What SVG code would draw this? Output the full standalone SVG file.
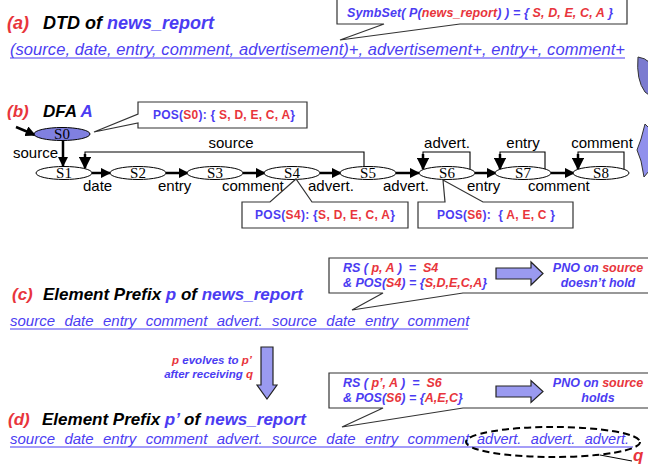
<svg xmlns="http://www.w3.org/2000/svg" width="648" height="469" viewBox="0 0 648 469">
  <style>
    text { font-family: "Liberation Sans", Arial, sans-serif; }
    .bi { font-weight: bold; font-style: italic; }
    .b { font-weight: bold; }
    .blue { fill: #4b3cf2; }
    .red { fill: #e8353c; }
    .blk { fill: #000; }
    .state { fill: #fff; stroke: #000; stroke-width: 1; }
    .slabel { font-family: "Liberation Serif", "Times New Roman", serif; font-size: 15px; text-anchor: middle; }
    .elabel { font-size: 15px; fill: #000; }
    .callout { fill: #fff; stroke: #333; stroke-width: 1.2; }
    .edge { stroke: #000; stroke-width: 2.5; fill: none; }
    .loop { stroke: #000; stroke-width: 1.1; fill: none; }
    .uline { stroke: #4b3cf2; stroke-width: 1.2; }
    .block { fill: #9a9af0; stroke: #222; stroke-width: 1.2; }
  </style>
  <defs>
    <marker id="ah" viewBox="0 0 10 10" refX="9" refY="5" markerWidth="4.2" markerHeight="4.2" orient="auto" markerUnits="strokeWidth">
      <path d="M0,0 L10,5 L0,10 Z" fill="#000"/>
    </marker>
    <marker id="ahs" viewBox="0 0 10 10" refX="9" refY="5" markerWidth="5" markerHeight="5" orient="auto" markerUnits="strokeWidth">
      <path d="M0,0 L10,5 L0,10 Z" fill="#000"/>
    </marker>
  </defs>

  <!-- (a) DTD -->
  <g id="title-a">
    <text x="7" y="29" font-size="18" class="bi"><tspan class="red">(a)</tspan><tspan class="blk" x="43">DTD of </tspan><tspan class="blue">news_report</tspan></text>
  </g>
  <g id="dtd">
    <text x="10" y="55" font-size="16.5" font-style="italic" class="blue" textLength="615" lengthAdjust="spacing">(source, date, entry, comment, advertisement)+, advertisement+, entry+, comment+</text>
    <line class="uline" x1="10" y1="58" x2="625" y2="58"/>
  </g>
  <g id="symbset-note">
    <path class="callout" d="M337,-2 H627 V24 H460 L340,40 L384,24 H337 Z"/>
    <text x="347" y="17" font-size="12.5" class="bi" textLength="266" lengthAdjust="spacing"><tspan class="blue">SymbSet( P(</tspan><tspan class="red">news_report</tspan><tspan class="blue">) ) = { </tspan><tspan class="red">S, D, E, C, A</tspan><tspan class="blue"> }</tspan></text>
  </g>

  <!-- curved arrow at right margin -->
  <g id="bend-arrow">
    <path d="M638,57 Q645,58 649,62 L649,95 L645,92 Q636,80 638,57 Z" fill="#7b7bd0" stroke="#333" stroke-width="1"/>
    <path d="M645,124 L641,139 L637,150 L641,161 L644,177 L649,171 L649,128 Z" fill="#9090ec" stroke="#333" stroke-width="1"/>
  </g>

  <!-- (b) DFA -->
  <g id="title-b">
    <text x="7" y="117" font-size="17" class="bi"><tspan class="red">(b)</tspan><tspan class="blk" x="43">DFA </tspan><tspan class="blue">A</tspan></text>
  </g>

  <g id="connectors">
    <!-- start -->
    <line class="edge" x1="16" y1="127" x2="35" y2="135" stroke-width="3.5" marker-end="url(#ah)"/>
    <!-- S0 -> S1 -->
    <line class="edge" x1="63" y1="141" x2="63" y2="166" marker-end="url(#ah)" stroke-width="2"/>
    <!-- chain -->
    <line class="edge" x1="92" y1="173" x2="110" y2="173" marker-end="url(#ah)"/>
    <line class="edge" x1="166" y1="173" x2="188" y2="173" marker-end="url(#ah)"/>
    <line class="edge" x1="243" y1="173" x2="265" y2="173" marker-end="url(#ah)"/>
    <line class="edge" x1="320" y1="173" x2="341" y2="173" marker-end="url(#ah)"/>
    <line class="edge" x1="396" y1="173" x2="419" y2="173" marker-end="url(#ah)"/>
    <line class="edge" x1="475" y1="173" x2="496" y2="173" marker-end="url(#ah)"/>
    <line class="edge" x1="551" y1="173" x2="574" y2="173" marker-end="url(#ah)"/>
    <!-- S5 -> S1 (source) -->
    <polyline class="loop" points="364,167 364,152 85,152 85,158"/>
    <line class="edge" x1="85" y1="154" x2="85" y2="168" stroke-width="2" marker-end="url(#ahs)"/>
    <!-- self loops -->
    <polyline class="loop" points="470,170 470,152 423,152 423,158"/>
    <line class="edge" x1="423" y1="154" x2="423" y2="169" stroke-width="2" marker-end="url(#ahs)"/>
    <polyline class="loop" points="545,170 545,152 500,152 500,158"/>
    <line class="edge" x1="500" y1="154" x2="500" y2="169" stroke-width="2" marker-end="url(#ahs)"/>
    <polyline class="loop" points="624,170 624,152 578,152 578,158"/>
    <line class="edge" x1="578" y1="154" x2="578" y2="169" stroke-width="2" marker-end="url(#ahs)"/>
  </g>

  <g id="edge-labels">
    <text class="elabel" x="13" y="158">source</text>
    <text class="elabel" x="231" y="148" text-anchor="middle">source</text>
    <text class="elabel" x="83" y="191">date</text>
    <text class="elabel" x="158" y="191">entry</text>
    <text class="elabel" x="222" y="191">comment</text>
    <text class="elabel" x="308" y="191">advert.</text>
    <text class="elabel" x="383" y="191">advert.</text>
    <text class="elabel" x="467" y="191">entry</text>
    <text class="elabel" x="528" y="191">comment</text>
    <text class="elabel" x="447" y="148" text-anchor="middle">advert.</text>
    <text class="elabel" x="523" y="148" text-anchor="middle">entry</text>
    <text class="elabel" x="602" y="148" text-anchor="middle">comment</text>
  </g>

  <g id="S0"><ellipse cx="62" cy="134" rx="28" ry="6.5" fill="#8080e0" stroke="#000" stroke-width="1"/><text class="slabel" x="62" y="139">S0</text></g>
  <g id="S1"><ellipse class="state" cx="64" cy="173" rx="28" ry="6.5"/><text class="slabel" x="64" y="178">S1</text></g>
  <g id="S2"><ellipse class="state" cx="138" cy="173" rx="28" ry="6.5"/><text class="slabel" x="138" y="178">S2</text></g>
  <g id="S3"><ellipse class="state" cx="215" cy="173" rx="28" ry="6.5"/><text class="slabel" x="215" y="178">S3</text></g>
  <g id="S4"><ellipse class="state" cx="292" cy="173" rx="28" ry="6.5"/><text class="slabel" x="292" y="178">S4</text></g>
  <g id="S5"><ellipse class="state" cx="368" cy="173" rx="28" ry="6.5"/><text class="slabel" x="368" y="178">S5</text></g>
  <g id="S6"><ellipse class="state" cx="447" cy="173" rx="28" ry="6.5"/><text class="slabel" x="447" y="178">S6</text></g>
  <g id="S7"><ellipse class="state" cx="523" cy="173" rx="28" ry="6.5"/><text class="slabel" x="523" y="178">S7</text></g>
  <g id="S8"><ellipse class="state" cx="601" cy="173" rx="28" ry="6.5"/><text class="slabel" x="601" y="178">S8</text></g>

  <g id="pos-s0">
    <path class="callout" d="M138,102 H307 V128 H138 V123 L94,132 L138,114 Z"/>
    <text x="153" y="119" font-size="12" class="b" textLength="142" lengthAdjust="spacing"><tspan class="blue">POS(</tspan><tspan class="red">S0</tspan><tspan class="blue">): { </tspan><tspan class="red">S, D, E, C, A</tspan><tspan class="blue">}</tspan></text>
  </g>
  <g id="pos-s4">
    <path class="callout" d="M242,202 H270 L296,179 L312,202 H408 V228 H242 Z"/>
    <text x="255" y="219" font-size="12" class="b" textLength="140" lengthAdjust="spacing"><tspan class="blue">POS(</tspan><tspan class="red">S4</tspan><tspan class="blue">): {</tspan><tspan class="red">S, D, E, C, A</tspan><tspan class="blue">}</tspan></text>
  </g>
  <g id="pos-s6">
    <path class="callout" d="M418,202 H445 L443,180 L483,202 H573 V228 H418 Z"/>
    <text x="437" y="219" font-size="12" class="b" textLength="118" lengthAdjust="spacing" xml:space="preserve"><tspan class="blue">POS(</tspan><tspan class="red">S6</tspan><tspan class="blue">):  { </tspan><tspan class="red">A, E, C</tspan><tspan class="blue"> }</tspan></text>
  </g>

  <!-- (c) prefix p -->
  <g id="title-c">
    <text x="12" y="300" font-size="17" class="bi"><tspan class="red">(c)</tspan><tspan class="blk" x="43">Element Prefix </tspan><tspan class="blue">p</tspan><tspan class="blk"> of </tspan><tspan class="blue">news_report</tspan></text>
  </g>
  <g id="prefix-p">
    <text x="10" y="326" font-size="15" font-style="italic" class="blue" word-spacing="5.2">source date entry comment advert. source date entry comment</text>
    <line class="uline" x1="10" y1="329" x2="468" y2="329"/>
  </g>
  <g id="rs-p">
    <path class="callout" d="M329,258 H660 V293 H463 L352,310 L383,293 H329 Z"/>
    <text x="343" y="272" font-size="12.5" class="bi" xml:space="preserve"><tspan class="blue">RS ( </tspan><tspan class="red">p, A</tspan><tspan class="blue"> )  =  </tspan><tspan class="red">S4</tspan></text>
    <text x="343" y="287" font-size="12.5" class="bi"><tspan class="blue">&amp; POS(</tspan><tspan class="red">S4</tspan><tspan class="blue">) = {</tspan><tspan class="red">S,D,E,C,A</tspan><tspan class="blue">}</tspan></text>
    <path class="block" d="M496,268 H531 V262 L543,273.5 L531,285 V279 H496 Z"/>
    <text x="598" y="272" font-size="12.5" class="bi" text-anchor="middle"><tspan class="blue">PNO on </tspan><tspan class="red">source</tspan></text>
    <text x="598" y="287" font-size="12.5" class="bi blue" text-anchor="middle">doesn’t hold</text>
  </g>

  <!-- evolution step -->
  <g id="evolve">
    <path class="block" d="M261,347 H273 V385 H277 L267,399 L257,385 H261 Z"/>
    <text x="252" y="364" font-size="11.5" class="bi" text-anchor="end"><tspan class="red">p</tspan><tspan class="blue"> evolves to </tspan><tspan class="red">p’</tspan></text>
    <text x="253" y="378" font-size="11.5" class="bi" text-anchor="end"><tspan class="blue">after receiving </tspan><tspan class="red">q</tspan></text>
  </g>

  <!-- (d) prefix p' -->
  <g id="title-d">
    <text x="8" y="425" font-size="17" class="bi"><tspan class="red">(d)</tspan><tspan class="blk" x="42">Element Prefix </tspan><tspan class="blue">p’</tspan><tspan class="blk"> of </tspan><tspan class="blue">news_report</tspan></text>
  </g>
  <g id="prefix-p2">
    <text x="10" y="444" font-size="15" font-style="italic" class="blue" word-spacing="5.2">source date entry comment advert. source date entry comment</text>
    <text x="477" y="444" font-size="14.5" font-style="italic" class="blue" word-spacing="5.5">advert. advert. advert.</text>
    <line class="uline" x1="10" y1="447" x2="633" y2="447"/>
  </g>
  <g id="rs-p2">
    <path class="callout" d="M329,373 H660 V408 H463 L342,427 L383,408 H329 Z"/>
    <text x="343" y="387" font-size="12.5" class="bi" xml:space="preserve"><tspan class="blue">RS ( </tspan><tspan class="red">p’, A</tspan><tspan class="blue"> )  =  </tspan><tspan class="red">S6</tspan></text>
    <text x="343" y="402" font-size="12.5" class="bi"><tspan class="blue">&amp; POS(</tspan><tspan class="red">S6</tspan><tspan class="blue">) = {</tspan><tspan class="red">A,E,C</tspan><tspan class="blue">}</tspan></text>
    <path class="block" d="M496,386 H531 V380.5 L543,391.5 L531,402.5 V397 H496 Z"/>
    <text x="598" y="387" font-size="12.5" class="bi" text-anchor="middle"><tspan class="blue">PNO on </tspan><tspan class="red">source</tspan></text>
    <text x="598" y="402" font-size="12.5" class="bi blue" text-anchor="middle">holds</text>
  </g>
  <g id="q-mark">
    <ellipse cx="553" cy="442" rx="87" ry="15" fill="none" stroke="#000" stroke-width="2" stroke-dasharray="7 4"/>
    <line x1="600" y1="455" x2="632" y2="461" stroke="#000" stroke-width="1"/>
    <text x="633" y="461" font-size="17" class="bi red">q</text>
  </g>
</svg>
